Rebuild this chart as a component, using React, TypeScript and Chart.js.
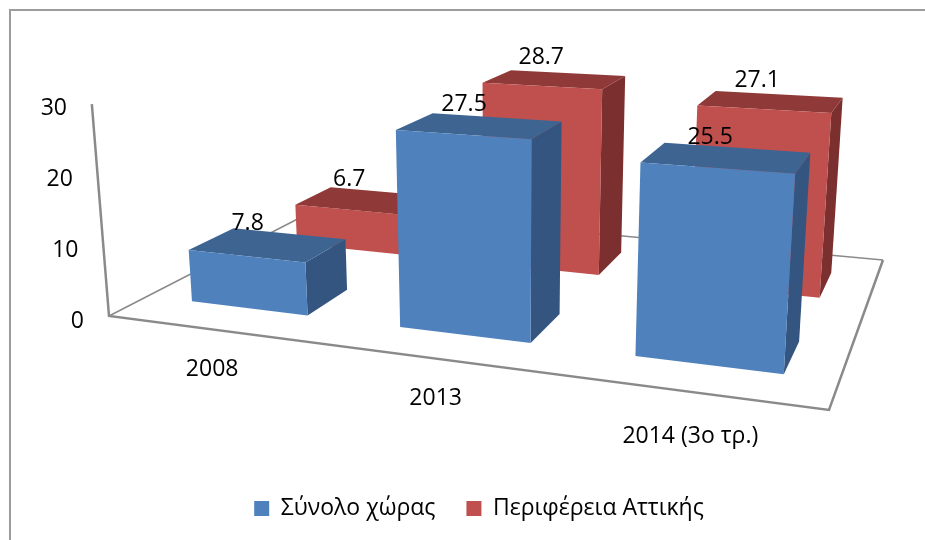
import React, { useEffect, useRef } from "react";
import { Chart, registerables } from "chart.js";

Chart.register(...registerables);

const categories = ["2008", "2013", "2014 (3ο τρ.)"];
const totalCountry = [7.8, 27.5, 25.5];
const atticaRegion = [6.7, 28.7, 27.1];
const seriesNames = ["Σύνολο χώρας", "Περιφέρεια Αττικής"];
const yTicks = [0, 10, 20, 30];

const FONT = '"Open Sans", sans-serif';
const TEXT = "#000000";
const LINE = "#8a8a8a";
const FACE = [
  { front: "#4F81BD", top: "#3E6491", side: "#33557F" },
  { front: "#C0504D", top: "#8F3A38", side: "#7B2F2E" },
];
// depth range (0 front .. 1 back of the floor) of each series
const DEPTH = [
  [0.15, 0.345],
  [0.65, 0.85],
];
const LABEL_NUDGE = [
  [[-41, -10], [-32, -13], [-26, -10]],
  [[-31, -12], [-26, -16], [-21, -14]],
];

// perspective projection of (u along categories, v depth, z height)
function project(u: number, v: number, z: number) {
  const w = -0.1782 * u + 0.29366 * v - 0.04083 * z + 1;
  return {
    x: (572.27 * u + 303.68 * v - 20.74 * z + 109) / w,
    y: (20.94 * u - 46.92 * v - 214 * z + 316) / w,
  };
}

function poly(ctx: CanvasRenderingContext2D, pts: { x: number; y: number }[], fill: string) {
  ctx.beginPath();
  pts.forEach((p, i) => (i ? ctx.lineTo(p.x, p.y) : ctx.moveTo(p.x, p.y)));
  ctx.closePath();
  ctx.fillStyle = fill;
  ctx.fill();
}

const scene3d = {
  id: "scene3d",
  beforeDatasetsDraw(chart: any) {
    const ctx: CanvasRenderingContext2D = chart.ctx;
    const { chartArea: area, scales } = chart;
    const yS = scales.y;
    const xS = scales.x;
    const zOf = (val: number) => (yS.bottom - yS.getPixelForValue(val)) / yS.height;
    ctx.save();

    // frame: top and left rules only
    ctx.strokeStyle = "#9c9c9c";
    ctx.lineWidth = 2;
    ctx.beginPath();
    ctx.moveTo(10, chart.height);
    ctx.lineTo(10, 10);
    ctx.lineTo(chart.width, 10);
    ctx.stroke();

    // floor and value axis
    ctx.strokeStyle = LINE;
    ctx.lineJoin = "miter";
    ctx.lineWidth = 1.5;
    const c = [project(0, 0, 0), project(1, 0, 0), project(1, 1, 0), project(0, 1, 0)];
    ctx.beginPath();
    ctx.moveTo(c[3].x, c[3].y);
    ctx.lineTo(c[2].x, c[2].y);
    ctx.moveTo(c[3].x, c[3].y);
    ctx.lineTo(c[0].x, c[0].y);
    ctx.stroke();
    ctx.lineWidth = 2.5;
    ctx.beginPath();
    const top = project(0, 0, zOf(yS.max) * 1.01);
    ctx.moveTo(top.x, top.y);
    ctx.lineTo(c[0].x, c[0].y);
    ctx.lineTo(c[1].x, c[1].y);
    ctx.lineTo(c[2].x, c[2].y);
    ctx.stroke();

    // boxes, back series first
    const labels: { text: string; x: number; y: number }[] = [];
    [1, 0].forEach((ds) => {
      const meta = chart.getDatasetMeta(ds);
      const [v0, v1] = DEPTH[ds];
      meta.data.forEach((el: any, i: number) => {
        const u0 = (el.x - el.width / 2 - area.left) / area.width + 0.004;
        const u1 = (el.x + el.width / 2 - area.left) / area.width + 0.004;
        const val = chart.data.datasets[ds].data[i];
        const z = zOf(val);
        const f = FACE[ds];
        poly(ctx, [project(u1, v0, 0), project(u1, v1, 0), project(u1, v1, z), project(u1, v0, z)], f.side);
        poly(ctx, [project(u0, v0, z), project(u1, v0, z), project(u1, v1, z), project(u0, v1, z)], f.top);
        poly(ctx, [project(u0, v0, 0), project(u1, v0, 0), project(u1, v0, z), project(u0, v0, z)], f.front);
        const a = project((u0 + u1) / 2, v1, z);
        const n = LABEL_NUDGE[ds][i];
        labels.push({ text: val.toFixed(1), x: a.x + n[0], y: a.y + n[1] });
      });
    });

    // value labels
    ctx.fillStyle = TEXT;
    ctx.font = `23px ${FONT}`;
    ctx.textBaseline = "middle";
    ctx.textAlign = "center";
    labels.forEach((l) => ctx.fillText(l.text, l.x, l.y));

    // value axis ticks follow the leaning axis
    ctx.textAlign = "right";
    yS.ticks.forEach((t: any) => {
      const p = project(0, 0, zOf(t.value));
      ctx.fillText(String(t.value), p.x - 25, yS.getPixelForValue(t.value));
    });

    // category labels along the front edge
    ctx.textAlign = "center";
    categories.forEach((name, i) => {
      const u = (xS.getPixelForValue(i) - area.left) / area.width + 0.004;
      const p = project(u, 0, 0);
      ctx.fillText(name, p.x - 1, p.y + 39.5 + (i === 2 ? 5 : 0));
    });
    ctx.restore();
    return false;
  },
};

export default function App() {
  const ref = useRef<HTMLCanvasElement>(null);
  useEffect(() => {
    const chart = new Chart(ref.current as HTMLCanvasElement, {
      type: "bar",
      data: {
        labels: categories,
        datasets: [
          { label: seriesNames[0], data: totalCountry, backgroundColor: FACE[0].front, grouped: false, barPercentage: 0.57, categoryPercentage: 1 } as any,
          { label: seriesNames[1], data: atticaRegion, backgroundColor: FACE[1].front, grouped: false, barPercentage: 0.57, categoryPercentage: 1 } as any,
        ],
      },
      options: {
        responsive: false,
        animation: false,
        layout: { padding: { left: 108, right: 75, top: 108, bottom: 10 } },
        plugins: {
          tooltip: { enabled: false },
          legend: {
            position: "bottom",
            labels: {
              font: { family: "Open Sans", size: 23 },
              color: TEXT,
              boxWidth: 15,
              boxHeight: 15,
              padding: 31,
            },
          },
        },
        scales: {
          x: {
            grid: { display: false },
            border: { display: false },
            ticks: { display: false },
            afterFit: (s: any) => {
              s.height = 145;
            },
          },
          y: {
            min: yTicks[0],
            max: yTicks[yTicks.length - 1],
            afterBuildTicks: (s: any) => {
              s.ticks = yTicks.map((value) => ({ value }));
            },
            grid: { display: false },
            border: { display: false },
            ticks: { display: false },
            afterFit: (s: any) => {
              s.width = 0;
            },
          },
        },
      },
      plugins: [scene3d],
    });
    return () => chart.destroy();
  }, []);
  return (
    <div style={{ position: "absolute", left: 0, top: 0, background: "#fff" }}>
      <canvas ref={ref} width={925} height={540} style={{ display: "block" }} />
    </div>
  );
}
